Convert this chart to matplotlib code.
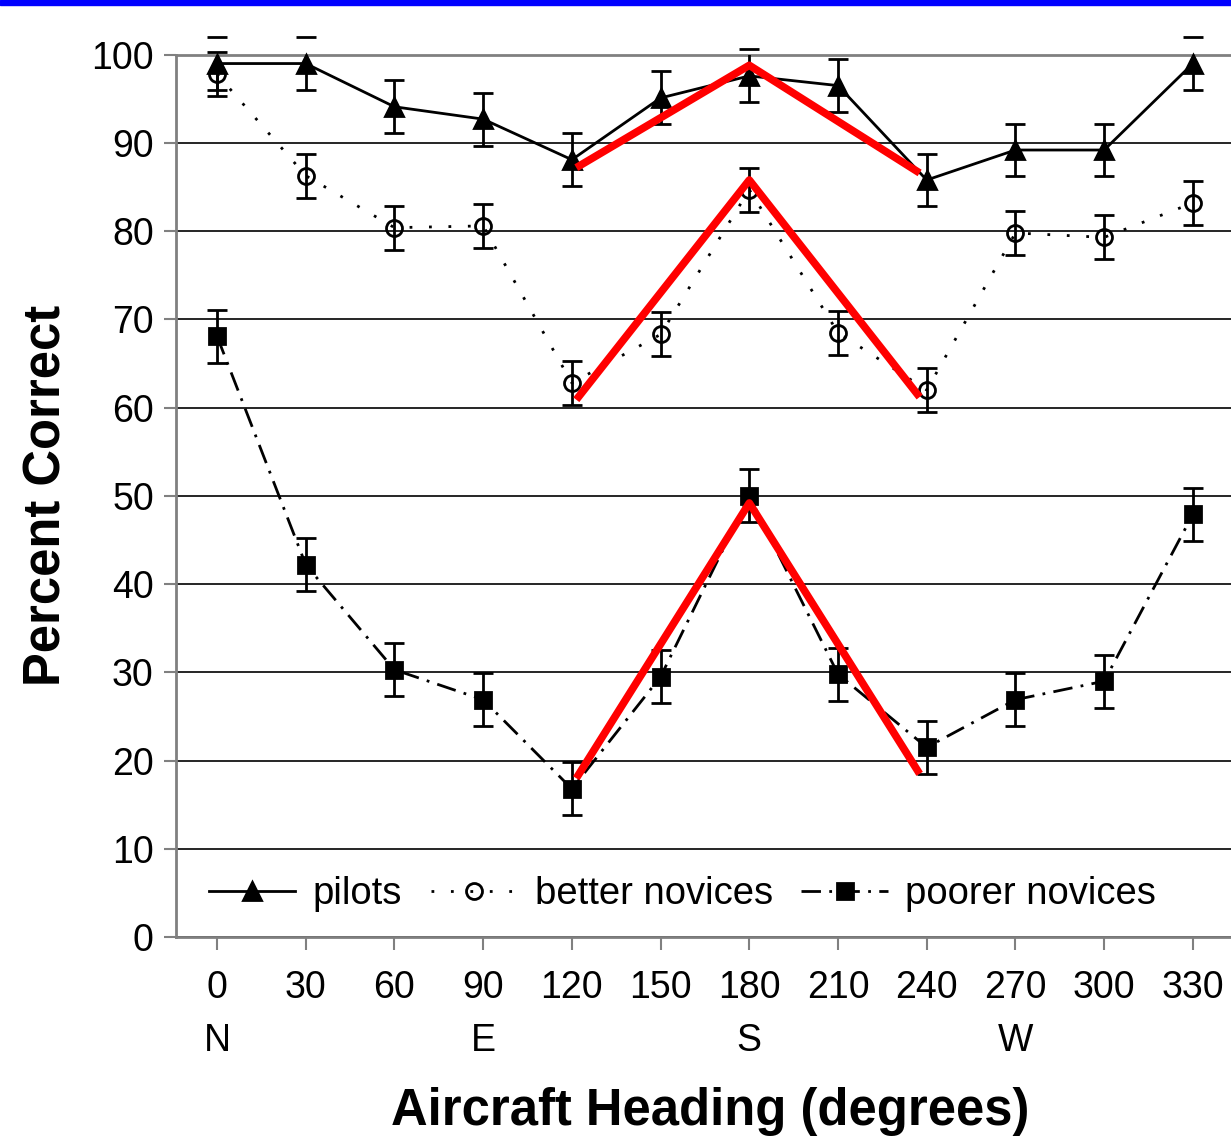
import numpy as np
import matplotlib
matplotlib.use("Agg")
import matplotlib.pyplot as plt
from matplotlib.patches import Rectangle

plt.rcParams['font.family'] = ['Liberation Sans', 'DejaVu Sans']

# data
headings = [0, 30, 60, 90, 120, 150, 180, 210, 240, 270, 300, 330]
compass = ["N", "", "", "E", "", "", "S", "", "", "W", "", ""]
pilots = [99.0, 99.0, 94.1, 92.7, 88.1, 95.1, 97.6, 96.5, 85.8, 89.2, 89.2, 99.0]
pilots_err = [3.0] * 12
better = [97.8, 86.3, 80.4, 80.6, 62.8, 68.3, 84.7, 68.5, 62.0, 79.8, 79.3, 83.2]
better_err = [2.5] * 12
poorer = [68.1, 42.2, 30.3, 26.9, 16.8, 29.5, 50.0, 29.8, 21.5, 26.9, 29.0, 47.9]
poorer_err = [3.0] * 12

# red overlay lines (heading index, percent)
red_x = [4.05, 6.0, 7.92]
red_pilots = [87.2, 98.8, 86.6]
red_better = [60.9, 85.8, 61.2]
red_poorer = [18.0, 49.2, 18.5]

fig = plt.figure(figsize=(12.31, 11.40), dpi=100)
fig.patches.append(Rectangle((0, 0.9955), 1, 0.0045, transform=fig.transFigure,
                             color="#0000ff", zorder=5))
ax = fig.add_axes([0.143, 0.178, 0.857, 0.774])

x = np.arange(len(headings))

def plot_series(vals, err, ls, marker, mfc, ms, label):
    line, = ax.plot(x, vals, color="black", linestyle=ls, lw=2, marker=marker,
                    markersize=ms, markerfacecolor=mfc, markeredgecolor="black",
                    markeredgewidth=2, label=label, zorder=4, clip_on=False)
    eb = ax.errorbar(x, vals, yerr=err, fmt="none", ecolor="black", elinewidth=2,
                     capsize=7, capthick=2, zorder=3)
    for c in eb[1]:
        c.set_clip_on(False)
    return line

h1 = plot_series(pilots, pilots_err, "-", "^", "black", 13, "pilots")
h2 = plot_series(better, better_err, (0, (1, 6)), "o", "none", 11.5, "better novices")
h3 = plot_series(poorer, poorer_err, (0, (7, 3, 1, 3)), "s", "black", 12, "poorer novices")

for vals in (red_pilots, red_better, red_poorer):
    ax.plot(red_x, vals, color="#ff0000", lw=5.5, zorder=6, solid_capstyle="butt")

ax.set_xlim(-0.462, 11.43)
ax.set_ylim(0, 100)
ax.set_yticks(np.arange(0, 101, 10))
ax.grid(axis="y", color="black", lw=1.2)
ax.set_axisbelow(True)
ax.set_xticks(x)
ax.set_xticklabels([f"{h}\n{c}" for h, c in zip(headings, compass)], linespacing=1.6)
ax.tick_params(axis="both", labelsize=27, length=9, width=1.5, color="#808080")
ax.tick_params(axis="y", pad=7)
ax.tick_params(axis="x", pad=15)

for side in ("left", "bottom", "top"):
    ax.spines[side].set_color("#808080")
    ax.spines[side].set_linewidth(2)
ax.spines["right"].set_visible(False)

ax.set_ylabel("Percent Correct", fontsize=36.5, fontweight="bold", labelpad=14)
ax.set_xlabel("Aircraft Heading (degrees)", fontsize=36.5, fontweight="bold")
ax.xaxis.set_label_coords(0.506, -0.17)

ax.legend(handles=[h1, h2, h3], loc="lower center", bbox_to_anchor=(0.48, 0.0),
          ncol=3, frameon=False, fontsize=27.5, handlelength=2.27, handletextpad=0.45,
          columnspacing=0.75, borderaxespad=0.25)

fig.savefig("out.png", dpi=100)
